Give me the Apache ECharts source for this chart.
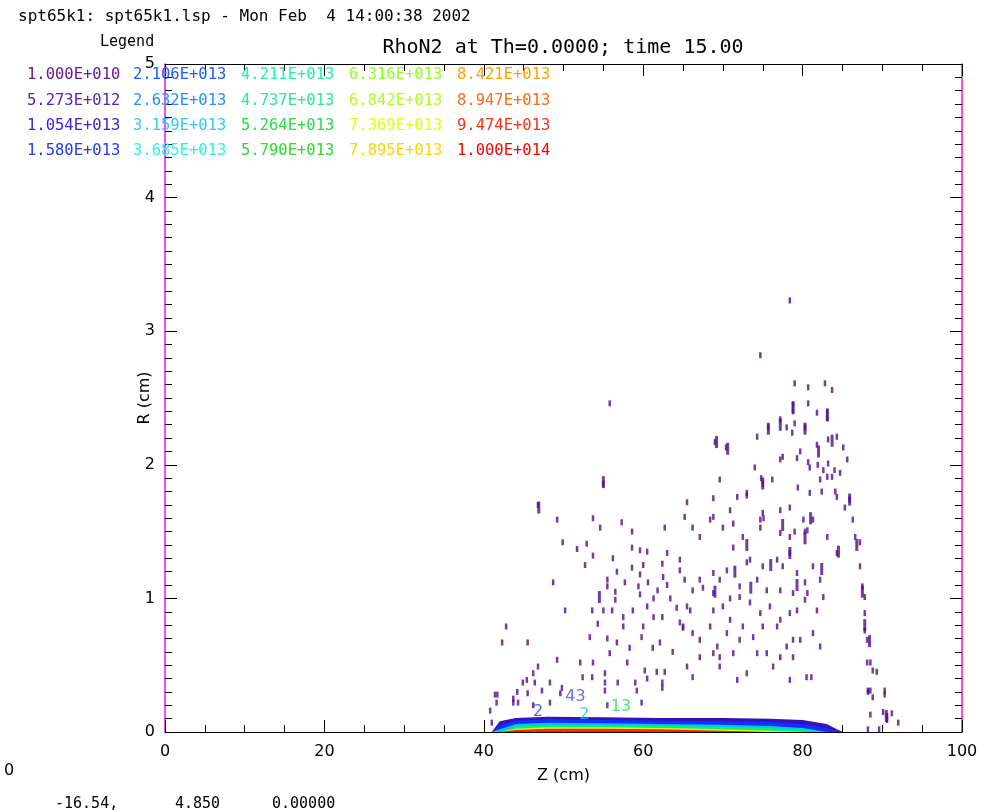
<!DOCTYPE html>
<html>
<head>
<meta charset="utf-8">
<script src="https://cdn.jsdelivr.net/npm/echarts@6/dist/echarts.min.js"></script>
<style>
html, body { margin: 0; padding: 0; background: #fff; }
#main { width: 992px; height: 812px; }
</style>
</head>
<body>
<div id="main"></div>
<script>
var myChart = echarts.init(document.getElementById('main'));
var FONT = 'DejaVu Sans';
var MONO = 'DejaVu Sans Mono';

// contour levels (legend), column by column
var levelText = [
    '1.000E+010', '5.273E+012', '1.054E+013', '1.580E+013',
    '2.106E+013', '2.632E+013', '3.159E+013', '3.685E+013',
    '4.211E+013', '4.737E+013', '5.264E+013', '5.790E+013',
    '6.316E+013', '6.842E+013', '7.369E+013', '7.895E+013',
    '8.421E+013', '8.947E+013', '9.474E+013', '1.000E+014'
];
var levelColors = [
    '#64189a', '#5a22b8', '#3a22e0', '#1f3cf0',
    '#1a5cff', '#2090ff', '#30c8ff', '#30eef0',
    '#20f0b8', '#28e896', '#22e040', '#30d830',
    '#8cff20', '#b0ff10', '#e0ff10', '#ffd400',
    '#ffa000', '#ff6a10', '#ff3010', '#ff0000'
];

// Z axis / R axis ticks
var zTicks = [0, 20, 40, 60, 80, 100];
var rTicks = [0, 1, 2, 3, 4, 5];

// dense band near the axis: top of each filled level along z
var bandZ = [41, 42, 44, 48, 55, 62, 70, 76, 80, 83, 85];
var bandPurple = [0, 0.08, 0.105, 0.115, 0.11, 0.105, 0.105, 0.10, 0.09, 0.06, 0];
var bandBlue   = [0, 0.05, 0.085, 0.095, 0.09, 0.085, 0.08, 0.075, 0.06, 0.03, 0];
var bandCyan   = [0, 0.02, 0.06, 0.07, 0.065, 0.06, 0.055, 0.045, 0.03, 0, 0];
var bandGreen  = [0, 0, 0.04, 0.05, 0.05, 0.045, 0.04, 0.03, 0.015, 0, 0];
var bandYellow = [0, 0, 0.025, 0.035, 0.035, 0.03, 0.02, 0.01, 0, 0, 0];
var bandRed    = [0, 0, 0.015, 0.025, 0.025, 0.02, 0.01, 0, 0, 0, 0];

// scattered lowest-level contour fragments [z, r]
var dashPoints = [
    [79.0,2.61],[80.7,2.58],[83.7,2.56],[82.8,2.61],
    [78.8,2.45],[78.8,2.40],[80.7,2.46],[81.8,2.39],[83.1,2.35],[83.1,2.40],
    [77.2,2.34],[75.7,2.28],[78.0,2.28],[79.0,2.31],[80.3,2.28],
    [69.0,2.17],[70.4,2.13],
    [74.3,2.21],[77.2,2.04],[79.3,2.05],[80.7,2.02],[81.8,2.15],[83.2,2.19],[84.3,2.21],[85.1,2.13],[85.6,2.04],[82.6,1.96],[83.7,1.91],[84.7,1.94],[82.2,1.89],
    [74.0,1.98],[75.0,1.86],[76.2,1.89],[74.8,1.90],
    [79.4,1.83],[80.9,1.79],[82.4,1.80],[84.1,1.80],
    [85.9,1.74],[84.3,1.76],[85.3,1.68],[86.3,1.59],[86.6,1.46],[87.2,1.42],[87.2,1.24],[87.5,1.09],[87.8,1.01],[87.8,0.89],[87.8,0.76],[88.1,0.69],[88.5,0.52],[88.8,0.46],[88.5,0.31],
    [73.0,1.79],[71.8,1.76],[68.8,1.75],[69.6,1.89],
    [65.2,1.61],[67.1,1.46],[68.8,1.61],[70.0,1.53],[71.3,1.56],[72.5,1.46],[74.7,1.59],[75.1,1.60],
    [77.2,1.49],[78.4,1.46],[80.1,1.59],[80.6,1.51],[81.3,1.59],
    [78.4,1.34],[77.5,1.24],[79.3,1.19],[80.3,1.12],[82.2,1.14],[83.1,1.46],[84.3,1.34],
    [71.3,1.38],[73.0,1.27],[70.5,1.21],[68.8,1.19],[66.2,1.06],[67.5,1.08],[68.8,1.04],[70.9,1.00],[72.1,1.01],[73.4,0.97],[75.5,1.06],[77.2,1.06],[78.8,1.04],[80.3,0.99],[82.6,1.01],
    [65.9,0.91],[68.8,0.91],[70.0,0.94],[74.7,0.89],[75.9,0.94],[79.3,0.91],[81.8,0.91],
    [65.0,0.79],[66.2,0.74],[68.4,0.79],[70.9,0.84],[72.5,0.79],[73.8,0.71],[76.8,0.79],[78.8,0.69],[81.3,0.74],[82.2,0.64],
    [65.5,0.49],[69.3,0.64],[69.6,0.56],[71.3,0.59],[73.0,0.44],[75.5,0.59],[77.2,0.56],[78.8,0.56],[80.5,0.41],[81.1,0.41],[71.8,0.39],[66.2,0.41],[78.4,0.39],
    [78.7,2.24],[77.5,2.06],[79.7,2.10],[80.9,1.98],[81.9,2.00],[83.2,2.01],[84.0,1.96],[83.1,1.91],
    [77.2,1.66],[78.4,1.68],[79.0,1.50],[80.3,1.50],[73.0,1.77],[75.0,1.64],[70.9,1.66],[68.4,1.59],[66.2,1.53],[74.7,1.53],
    [73.4,1.29],[75.0,1.24],[76.8,1.29],[74.3,1.14],[72.1,1.09],[69.6,1.14],[67.1,1.14],[80.6,1.04],[81.3,1.24],
    [78.4,0.89],[77.2,0.84],[75.0,0.79],[72.1,0.69],[70.5,0.74],[67.1,0.69],[68.8,0.59],[74.3,0.59],[76.3,0.49],[78.0,0.64],[79.7,0.69],[69.6,0.49],[67.1,0.56],
    [55.0,1.86],[46.8,1.70],[49.2,1.59],[53.7,1.60],[54.6,1.53],[57.3,1.57],[58.6,1.50],[49.9,1.42],[51.7,1.37],[52.9,1.41],[53.7,1.32],[58.6,1.38],[59.6,1.36],[60.5,1.35],[63.0,1.34],[62.7,1.53],[65.5,1.72],
    [56.2,1.30],[52.7,1.25],[48.7,1.12],[56.7,1.20],[58.6,1.23],[60.0,1.25],[62.4,1.26],[64.6,1.29],
    [55.5,1.14],[55.5,1.09],[57.7,1.12],[59.6,1.18],[59.4,1.09],[60.6,1.12],[62.5,1.16],[63.0,1.10],[64.6,1.21],[65.2,1.14],
    [56.5,1.05],[56.5,0.99],[59.6,1.03],[61.3,1.00],[61.8,1.06],[63.4,1.00],[64.2,0.93],[65.5,0.94],
    [50.2,0.91],[53.6,0.91],[55.0,0.91],[56.1,0.91],[57.5,0.86],[58.7,0.91],[60.5,0.94],[61.3,0.86],[62.4,0.86],[64.6,0.82],[65.0,0.78],
    [42.8,0.79],[54.3,0.81],[57.5,0.79],[60.0,0.79],[62.1,0.67],[59.8,0.71],[55.5,0.70],[56.7,0.67],[53.3,0.71],
    [42.3,0.67],[45.5,0.67],[52.1,0.52],[53.7,0.52],[55.8,0.59],[58.3,0.63],[61.2,0.63],[63.7,0.60],[58.0,0.52],[60.2,0.46],[61.7,0.45],[62.7,0.45],
    [49.2,0.54],[46.8,0.49],[52.4,0.41],[53.6,0.41],[55.2,0.44],[59.0,0.37],[60.5,0.40],[62.4,0.37],[56.8,0.37],[55.2,0.37],
    [46.2,0.44],[45.4,0.39],[44.9,0.37],[46.4,0.37],[48.3,0.37],[49.8,0.33],[44.2,0.30],[47.3,0.31],[41.7,0.28],[43.7,0.25],[55.2,0.31],[59.2,0.31],[62.4,0.33],
    [41.4,0.28],[41.6,0.22],[43.7,0.22],[44.3,0.22],[45.5,0.29],[46.2,0.20],[48.3,0.22],[49.6,0.29],[40.8,0.16],[41.0,0.07],[59.8,0.22],[55.5,0.20],
    [78.4,3.23],[74.7,2.82],[55.8,2.46],
    [88.2,0.30],[88.8,0.26],[90.3,0.28],[88.5,0.13],[90.1,0.15],[90.6,0.09],[90.6,0.12],[91.2,0.14],[92.0,0.07],[89.6,0.02],[88.2,0.02],[88.1,0.52],[89.3,0.45],[88.2,0.31],[90.3,0.31]
];

// longer contour streaks [z, r]
var streakPoints = [
    [78.8,2.43],[83.1,2.37],[75.7,2.27],[77.2,2.30],[80.3,2.27],[82.0,2.10],[83.7,2.18],[85.9,1.74],
    [78.4,1.34],[75.0,1.86],[81.0,1.60],[80.3,1.45],[77.5,1.55],[73.0,1.40],[71.5,1.20],[69.0,1.05],
    [73.5,1.08],[76.0,1.25],[87.5,1.05],[86.8,1.40],[87.8,0.80],[82.4,1.22],[84.5,1.35],[79.3,1.10],
    [88.4,0.68],[90.5,0.12],[55.0,1.87],[46.9,1.68],[54.5,1.01],[69.2,2.17],[70.6,2.12]
];

// contour labels drawn inside the plot
var contourLabelPos = [[46.8, 0.15], [51.5, 0.26], [52.6, 0.13], [57.2, 0.19]];
var contourLabelText = ['2', '43', '2', '13'];
var contourLabelColor = ['#2a40ff', '#3a50ff', '#20b8ff', '#20e040'];

var dashColor = '#520c8c';

function pairs(zs, rs) {
    return zs.map(function (z, i) { return [z, rs[i]]; });
}

function bandSeries(rs, color) {
    return {
        type: 'line',
        data: pairs(bandZ, rs),
        showSymbol: false,
        lineStyle: { width: 0 },
        areaStyle: { color: color, opacity: 1 },
        silent: true,
        z: 3
    };
}

var series = [
    bandSeries(bandPurple, '#3a10b8'),
    bandSeries(bandBlue, '#1030ff'),
    bandSeries(bandCyan, '#00c8ff'),
    bandSeries(bandGreen, '#10f060'),
    bandSeries(bandYellow, '#e8ff00'),
    bandSeries(bandRed, '#ff2000'),
    {
        type: 'scatter',
        data: dashPoints,
        symbol: 'rect',
        symbolSize: [2.5, 6],
        itemStyle: { color: dashColor },
        silent: true,
        z: 4
    },
    {
        type: 'scatter',
        data: streakPoints,
        symbol: 'rect',
        symbolSize: [3, 12],
        itemStyle: { color: dashColor },
        silent: true,
        z: 4
    },
    {
        type: 'scatter',
        data: contourLabelPos.map(function (p, i) {
            return {
                value: p,
                label: {
                    show: true, formatter: contourLabelText[i], color: contourLabelColor[i],
                    fontSize: 16, fontFamily: FONT, position: 'inside'
                }
            };
        }),
        symbolSize: 1,
        itemStyle: { color: 'rgba(0,0,0,0)' },
        silent: true,
        z: 5
    }
];

var graphics = [
    { type: 'text', left: 18, top: 9, style: { text: 'spt65k1: spt65k1.lsp - Mon Feb  4 14:00:38 2002', font: '16px ' + MONO, fill: '#000' } },
    { type: 'text', left: 100, top: 35, style: { text: 'Legend', font: '15px ' + MONO, fill: '#000' } },
    { type: 'text', x: 563, y: 48, style: { text: 'RhoN2 at Th=0.0000; time 15.00', font: '20px ' + MONO, fill: '#000', align: 'center', verticalAlign: 'middle' } },
    { type: 'text', left: 4, top: 763, style: { text: '0', font: '16px ' + FONT, fill: '#000' } },
    { type: 'text', left: 55, top: 797, style: { text: '-16.54,', font: '15px ' + MONO, fill: '#000' } },
    { type: 'text', left: 175, top: 797, style: { text: '4.850', font: '15px ' + MONO, fill: '#000' } },
    { type: 'text', left: 272, top: 797, style: { text: '0.00000', font: '15px ' + MONO, fill: '#000' } }
];
var colX = [27, 133, 241, 349, 457];
var rowY = [75, 101, 126, 151];
levelText.forEach(function (t, i) {
    var c = Math.floor(i / 4), r = i % 4;
    graphics.push({
        type: 'text', x: colX[c], y: rowY[r], z: 10,
        style: { text: t, font: '15.5px ' + MONO, fill: levelColors[i], verticalAlign: 'middle' }
    });
});

function zAxis(pos, showLabel) {
    return {
        type: 'value', position: pos, min: zTicks[0], max: zTicks[zTicks.length - 1], interval: 20,
        axisLine: { show: true, onZero: false, lineStyle: { color: '#000', width: 1 } },
        axisTick: { inside: true, length: 12, lineStyle: { color: '#000' } },
        minorTick: { show: true, splitNumber: 4, length: 7, lineStyle: { color: '#000' } },
        axisLabel: { show: showLabel, margin: 12, color: '#000', fontSize: 16, fontFamily: FONT },
        splitLine: { show: false },
        name: showLabel ? 'Z (cm)' : '',
        nameLocation: 'middle', nameGap: 36, nameMoveOverlap: false,
        nameTextStyle: { color: '#000', fontSize: 16, fontFamily: FONT }
    };
}

function rAxis(pos, showLabel) {
    return {
        type: 'value', position: pos, min: rTicks[0], max: rTicks[rTicks.length - 1], interval: 1,
        axisLine: { show: true, onZero: false, lineStyle: { color: '#e020e0', width: 1.5 } },
        axisTick: { inside: true, length: 12, lineStyle: { color: '#000' } },
        minorTick: { show: true, splitNumber: 10, length: 7, lineStyle: { color: '#000' } },
        axisLabel: { show: showLabel, margin: 10, color: '#000', fontSize: 16, fontFamily: FONT },
        splitLine: { show: false },
        name: showLabel ? 'R (cm)' : '',
        nameLocation: 'middle', nameGap: 12, nameRotate: 90, nameMoveOverlap: false,
        nameTextStyle: { color: '#000', fontSize: 16, fontFamily: FONT }
    };
}

var option = {
    animation: false,
    backgroundColor: '#fff',
    grid: { left: 165, right: 30, top: 64, bottom: 80, containLabel: false },
    xAxis: [zAxis('bottom', true), zAxis('top', false)],
    yAxis: [rAxis('left', true), rAxis('right', false)],
    series: series,
    graphic: graphics
};

myChart.setOption(option);
</script>
</body>
</html>
